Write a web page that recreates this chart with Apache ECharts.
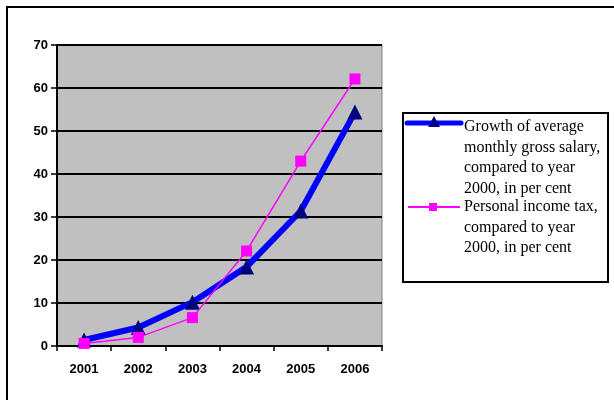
<!DOCTYPE html>
<html>
<head>
<meta charset="utf-8">
<script src="https://cdn.jsdelivr.net/npm/echarts@6/dist/echarts.min.js"></script>
<style>
  html, body { margin: 0; padding: 0; background: #fff; }
  #main { width: 614px; height: 400px; }
</style>
</head>
<body>
<div id="main"></div>
<script>
// data
var years = ['2001', '2002', '2003', '2004', '2005', '2006']
var salary = [1.4, 4.3, 10.2, 18.4, 31.4, 54.4]
var incomeTax = [0.6, 2.0, 6.6, 22.1, 43.0, 62.1]
var yTicks = [0, 10, 20, 30, 40, 50, 60, 70]
var salaryName = 'Growth of average\nmonthly gross salary,\ncompared to year\n2000, in per cent'
var taxName = 'Personal income tax,\ncompared to year\n2000, in per cent'

var myChart = echarts.init(document.getElementById('main'))

var legendFont = '16px "Liberation Serif", "Times New Roman", serif'

var option = {
  animation: false,
  backgroundColor: '#ffffff',
  grid: {
    left: 57,
    right: 232,
    top: 45,
    bottom: 54,
    show: true,
    backgroundColor: '#c0c0c0',
    borderColor: '#808080',
    borderWidth: 1
  },
  xAxis: {
    type: 'category',
    data: years,
    boundaryGap: true,
    axisLine: { lineStyle: { color: '#000', width: 2 } },
    axisTick: { show: true, length: 5, lineStyle: { color: '#000', width: 1.5 } },
    axisLabel: {
      color: '#000',
      fontFamily: 'Liberation Sans, Arial, sans-serif',
      fontWeight: 'bold',
      fontSize: 13,
      margin: 17
    },
    splitLine: { show: false }
  },
  yAxis: {
    type: 'value',
    min: yTicks[0],
    max: yTicks[yTicks.length - 1],
    interval: 10,
    axisLine: { show: true, lineStyle: { color: '#000', width: 2 } },
    axisTick: { show: true, length: 6, lineStyle: { color: '#000', width: 1.5 } },
    axisLabel: {
      color: '#000',
      fontFamily: 'Liberation Sans, Arial, sans-serif',
      fontWeight: 'bold',
      fontSize: 13,
      margin: 9
    },
    splitLine: { show: true, lineStyle: { color: '#000', width: 2 } }
  },
  series: [
    {
      name: 'salary',
      type: 'line',
      data: salary,
      lineStyle: { color: '#0000ff', width: 6 },
      itemStyle: { color: '#000080' },
      symbol: 'triangle',
      symbolSize: 15,
      z: 2
    },
    {
      name: 'tax',
      type: 'line',
      data: incomeTax,
      lineStyle: { color: '#ff00ff', width: 1.5 },
      itemStyle: { color: '#ff00ff' },
      symbol: 'rect',
      symbolSize: 11,
      z: 3
    }
  ],
  graphic: [
    // outer chart frame (only top and left edges are visible)
    {
      type: 'rect',
      shape: { x: 7, y: 7, width: 700, height: 500 },
      style: { fill: 'none', stroke: '#000', lineWidth: 2 },
      silent: true
    },
    // legend box
    {
      type: 'rect',
      shape: { x: 403, y: 113, width: 205, height: 169 },
      style: { fill: '#fff', stroke: '#000', lineWidth: 2 },
      silent: true
    },
    {
      type: 'line',
      shape: { x1: 407, y1: 123, x2: 461, y2: 123 },
      style: { stroke: '#0000ff', lineWidth: 5, lineCap: 'round' },
      silent: true
    },
    {
      type: 'polygon',
      shape: { points: [[434, 116], [440, 127], [428, 127]] },
      style: { fill: '#000080' },
      silent: true
    },
    {
      type: 'text',
      x: 464, y: 117,
      style: { text: salaryName, font: legendFont, lineHeight: 20.5, fill: '#000', verticalAlign: 'top' },
      silent: true
    },
    {
      type: 'line',
      shape: { x1: 408, y1: 207, x2: 460, y2: 207 },
      style: { stroke: '#ff00ff', lineWidth: 2 },
      silent: true
    },
    {
      type: 'rect',
      shape: { x: 429, y: 203, width: 8, height: 8 },
      style: { fill: '#ff00ff' },
      silent: true
    },
    {
      type: 'text',
      x: 464, y: 197,
      style: { text: taxName, font: legendFont, lineHeight: 20.5, fill: '#000', verticalAlign: 'top' },
      silent: true
    }
  ]
}

myChart.setOption(option)
</script>
</body>
</html>
